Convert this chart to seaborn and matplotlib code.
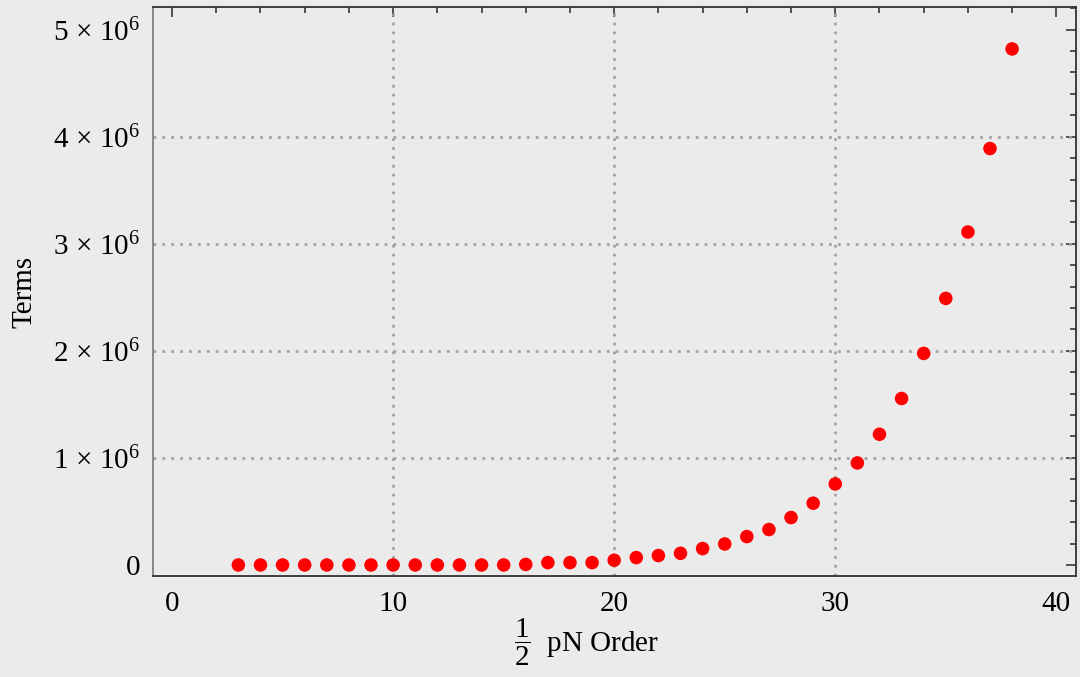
import numpy as np
import pandas as pd
import matplotlib.pyplot as plt
import seaborn as sns
from matplotlib.ticker import MultipleLocator, FuncFormatter

# veriler
order = list(range(3, 39))
terms = [0, 0, 0, 0, 0, 0, 0, 0, 0, 0, 0, 0, 0, 5000,
         22000, 22000, 22000, 44000, 69000, 88000, 109000, 153000, 196000,
         265000, 331000, 443000, 577000, 757000, 953000, 1221000, 1555000,
         1976000, 2490000, 3110000, 3890000, 4820000]
x_grid = [10, 20, 30]
y_grid = [1e6, 2e6, 3e6, 4e6]

df = pd.DataFrame({'order': order, 'terms': terms})

sns.set_theme(style='white')
plt.rcParams['font.family'] = ['Liberation Serif', 'DejaVu Serif']
plt.rcParams['mathtext.fontset'] = 'custom'
plt.rcParams['mathtext.rm'] = 'Liberation Serif'
plt.rcParams['mathtext.it'] = 'Liberation Serif:italic'
plt.rcParams['mathtext.bf'] = 'Liberation Serif:bold'

bg = '#ebebeb'
fig = plt.figure(figsize=(10.8, 6.77), dpi=100, facecolor=bg)
ax = fig.add_axes([0.1417, 0.1492, 0.8546, 0.8405])
ax.set_facecolor(bg)

# grid cizgileri (noktali)
for gx in x_grid:
    ax.axvline(gx, color='#a3a3a3', linestyle=(0, (1, 2.2)), linewidth=2.0, zorder=1)
for gy in y_grid:
    ax.axhline(gy, color='#a3a3a3', linestyle=(0, (1, 2.2)), linewidth=2.0, zorder=1)

sns.scatterplot(data=df, x='order', y='terms', ax=ax, color='#ff0000',
                s=95, edgecolor='none', zorder=3)

ax.set_xlim(-0.86, 40.89)
ax.set_ylim(-0.103e6, 5.212e6)

ax.xaxis.set_major_locator(MultipleLocator(10))
ax.xaxis.set_minor_locator(MultipleLocator(2))
ax.yaxis.set_major_locator(MultipleLocator(1e6))
ax.yaxis.set_minor_locator(MultipleLocator(2e5))

def yfmt(v, pos):
    if abs(v) < 1:
        return '0'
    return r'$%d\,\times\,10^{6}$' % round(v / 1e6)

ax.yaxis.set_major_formatter(FuncFormatter(yfmt))

ax.tick_params(which='both', direction='in', top=True, right=True,
               labelsize=21, colors='#444444', labelcolor='black', width=1.3)
ax.tick_params(which='major', length=7.5)
ax.tick_params(which='minor', length=4.5)
ax.tick_params(axis='x', which='major', pad=11)
ax.tick_params(axis='y', which='major', pad=9)

for side in ['top', 'right', 'bottom']:
    ax.spines[side].set_color('#333333')
    ax.spines[side].set_linewidth(1.3)
ax.spines['left'].set_color('#808080')
ax.spines['left'].set_linewidth(1.3)

ax.set_xlabel(r'$\dfrac{1}{2}$  pN Order', fontsize=21, color='black')
ax.set_ylabel('Terms', fontsize=21, color='black')
ax.xaxis.set_label_coords(0.47, -0.072)
ax.yaxis.set_label_coords(-0.125, 0.5)

plt.savefig('out.png', dpi=100, facecolor=bg)
